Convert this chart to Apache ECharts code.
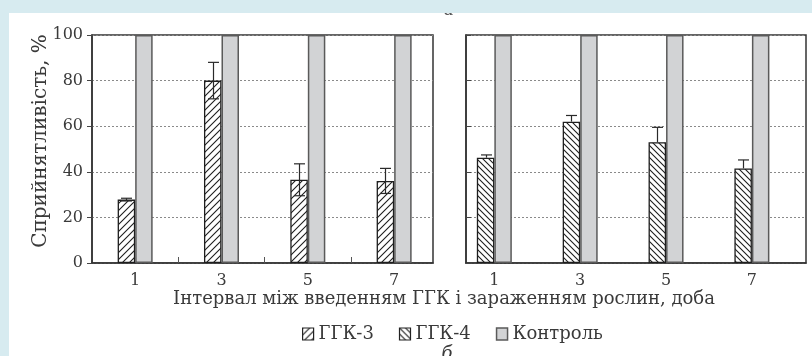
<!DOCTYPE html>
<html>
<head>
<meta charset="utf-8">
<script src="https://cdn.jsdelivr.net/npm/echarts@6/dist/echarts.min.js"></script>
<style>
  html, body { margin: 0; padding: 0; background: #fff; }
  #chart { width: 812px; height: 356px; }
</style>
</head>
<body>
<div id="chart"></div>
<script>
// Interval between treatment and inoculation, days
const days = [1, 3, 5, 7];
const dayLabels = ['1', '3', '5', '7'];
// Susceptibility, % (mean and error)
const ggk3 = [27.8, 80, 36.5, 36];
const ggk3Err = [0.6, 8, 7, 5.5];
const ggk4 = [46.2, 62, 53, 41.5];
const ggk4Err = [1.2, 2.7, 6.5, 3.7];
const control = [100, 100, 100, 100];
const yTicks = [0, 20, 40, 60, 80, 100];

const seriesNames = ['ГГК-3', 'ГГК-4', 'Контроль'];
const yTitle = 'Сприйнятливість, %';
const xTitle = 'Інтервал між введенням ГГК і зараженням рослин, доба';

const FONT = 'DejaVu Serif';
const TEXT = '#3a3a3a';
const BAR_W = 17.5;

function hatch(size, forward) {
  const c = document.createElement('canvas');
  c.width = size; c.height = size;
  const g = c.getContext('2d');
  g.fillStyle = '#fff';
  g.fillRect(0, 0, size, size);
  g.strokeStyle = '#1e1e1e';
  g.lineWidth = 1.1;
  g.beginPath();
  if (forward) {
    g.moveTo(-1, size + 1); g.lineTo(size + 1, -1);
    g.moveTo(-2, 2); g.lineTo(2, -2);
    g.moveTo(size - 2, size + 2); g.lineTo(size + 2, size - 2);
  } else {
    g.moveTo(-1, -1); g.lineTo(size + 1, size + 1);
    g.moveTo(size - 2, -2); g.lineTo(size + 2, 2);
    g.moveTo(-2, size - 2); g.lineTo(2, size + 2);
  }
  g.stroke();
  return c;
}

const pat3 = { image: hatch(7, true), repeat: 'repeat' };
const pat4 = { image: hatch(6, false), repeat: 'repeat' };

const pairs = (vals) => days.map((d, i) => [d, vals[i]]);
const errData = (vals, errs) => days.map((d, i) => [d, vals[i], errs[i]]);

function errorBars(withLower) {
  return function (params, api) {
    const x = api.value(0), y = api.value(1), e = api.value(2);
    const top = api.coord([x, y + e]);
    const bot = api.coord([x, withLower ? y - e : y]);
    const cx = Math.round(top[0] - BAR_W / 2) + 0.5;
    const hw = 5.5;
    const style = { stroke: '#2a2a2a', lineWidth: 1.2 };
    const children = [
      { type: 'line', shape: { x1: cx, y1: top[1], x2: cx, y2: bot[1] }, style },
      { type: 'line', shape: { x1: cx - hw, y1: top[1], x2: cx + hw, y2: top[1] }, style }
    ];
    if (withLower) {
      children.push({ type: 'line', shape: { x1: cx - hw, y1: bot[1], x2: cx + hw, y2: bot[1] }, style });
    }
    return { type: 'group', children };
  };
}

function xAxisFor(gridIndex, min, max, tickValues) {
  return {
    type: 'value', gridIndex, min, max,
    axisLine: { show: true, onZero: false, lineStyle: { color: '#333', width: 1.5 } },
    axisTick: { show: tickValues.length > 0, inside: true, length: 6, customValues: tickValues,
                lineStyle: { color: '#555', width: 1 } },
    axisLabel: { customValues: days, formatter: (v) => dayLabels[days.indexOf(v)],
                 fontFamily: FONT, fontSize: 16, color: TEXT, margin: 10 },
    splitLine: { show: false }
  };
}

function yAxisFor(gridIndex, withLabels) {
  return {
    type: 'value', gridIndex, min: 0, max: 100, interval: 20,
    axisLine: { show: true, lineStyle: { color: '#333', width: 1.5 } },
    axisTick: { show: true, inside: !withLabels, length: 5, lineStyle: { color: '#444', width: 1 } },
    axisLabel: { show: withLabels, fontFamily: FONT, fontSize: 16, color: TEXT, margin: 9,
                 customValues: yTicks },
    splitLine: { show: true, lineStyle: { color: '#8a8a8a', type: [2, 2], width: 1 } }
  };
}

const chart = echarts.init(document.getElementById('chart'), null, { renderer: 'canvas' });

const controlStyle = { color: '#d2d3d5', borderColor: '#5a5a5a', borderWidth: 1.5 };

chart.setOption({
  animation: false,
  backgroundColor: '#fff',
  grid: [
    { left: 92, right: 379, top: 35, bottom: 93, show: true, borderColor: '#333', borderWidth: 1.5, backgroundColor: 'transparent' },
    { left: 466, right: 6, top: 35, bottom: 93, show: true, borderColor: '#333', borderWidth: 1.5, backgroundColor: 'transparent' }
  ],
  xAxis: [
    xAxisFor(0, 0, 7.9, [2, 4, 6]),
    xAxisFor(1, 0.34, 8.26, [])
  ],
  yAxis: [yAxisFor(0, true), yAxisFor(1, false)],
  legend: {
    left: 302, top: 325, padding: 0, itemWidth: 11, itemHeight: 12, itemGap: 25,
    selectedMode: false,
    textStyle: { fontFamily: FONT, fontSize: 18, color: TEXT },
    data: [
      { name: seriesNames[0], icon: 'rect', itemStyle: { color: pat3, borderColor: '#222', borderWidth: 1.2 } },
      { name: seriesNames[1], icon: 'rect', itemStyle: { color: pat4, borderColor: '#222', borderWidth: 1.2 } },
      { name: seriesNames[2], icon: 'rect', itemStyle: controlStyle }
    ]
  },
  series: [
    { name: seriesNames[0], type: 'bar', xAxisIndex: 0, yAxisIndex: 0, barWidth: BAR_W, barGap: '0%',
      data: pairs(ggk3), itemStyle: { color: pat3, borderColor: '#1e1e1e', borderWidth: 1.3 }, z: 2 },
    { name: seriesNames[2], type: 'bar', xAxisIndex: 0, yAxisIndex: 0, barWidth: BAR_W, barGap: '0%',
      data: pairs(control), itemStyle: controlStyle, z: 2 },
    { type: 'custom', xAxisIndex: 0, yAxisIndex: 0, data: errData(ggk3, ggk3Err),
      renderItem: errorBars(true), z: 5, silent: true },

    { name: seriesNames[1], type: 'bar', xAxisIndex: 1, yAxisIndex: 1, barWidth: BAR_W, barGap: '0%',
      data: pairs(ggk4), itemStyle: { color: pat4, borderColor: '#1e1e1e', borderWidth: 1.3 }, z: 2 },
    { name: seriesNames[2] + ' ', type: 'bar', xAxisIndex: 1, yAxisIndex: 1, barWidth: BAR_W, barGap: '0%',
      data: pairs(control), itemStyle: controlStyle, z: 2 },
    { type: 'custom', xAxisIndex: 1, yAxisIndex: 1, data: errData(ggk4, ggk4Err),
      renderItem: errorBars(false), z: 5, silent: true }
  ],
  graphic: [
    { type: 'text', z: 10, x: 449, y: 11,
      style: { text: 'а', fontFamily: FONT, fontStyle: 'italic', fontSize: 17, fill: '#555', align: 'center', verticalAlign: 'middle' } },
    { type: 'text', z: 10, x: 444, y: 299,
      style: { text: xTitle, fontFamily: FONT, fontSize: 18, fill: TEXT, align: 'center', verticalAlign: 'middle' } },
    { type: 'text', z: 10, x: 41, y: 141, rotation: Math.PI / 2,
      style: { text: yTitle, fontFamily: FONT, fontSize: 20, fill: TEXT, align: 'center', verticalAlign: 'middle' } },
    { type: 'text', z: 10, x: 447, y: 354,
      style: { text: 'б', fontFamily: FONT, fontStyle: 'italic', fontSize: 18, fill: TEXT, align: 'center', verticalAlign: 'middle' } },
    // page margins in the light-blue tone
    { type: 'rect', z: 20, shape: { x: 0, y: 0, width: 812, height: 13 }, style: { fill: '#d7ebf0' } },
    { type: 'rect', z: 20, shape: { x: 0, y: 0, width: 9, height: 356 }, style: { fill: '#d7ebf0' } }
  ]
});
</script>
</body>
</html>
